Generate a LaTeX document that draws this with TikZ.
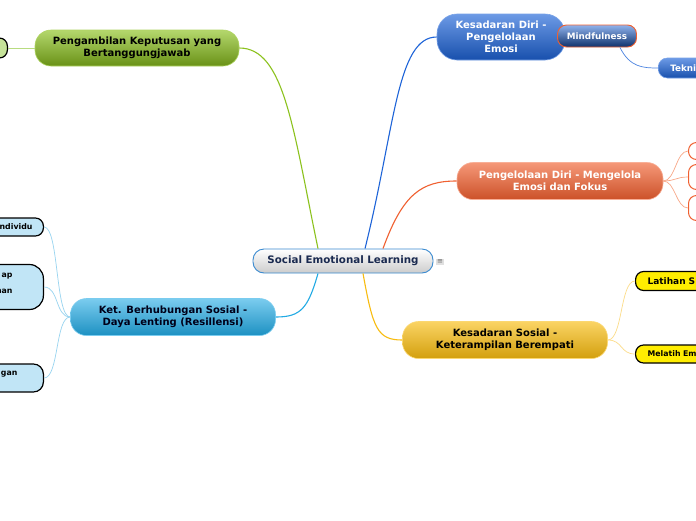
\documentclass[tikz,border=0pt]{standalone}
\usepackage{fontspec}
\setmainfont{DejaVu Sans}
\usepackage{xcolor}
\usepackage{tikz}
\usetikzlibrary{arrows}

\definecolor{sellink}{HTML}{3A8AD0}
\definecolor{selnavy}{HTML}{1A2A50}
\definecolor{grn}{HTML}{8CC21E}
\definecolor{grnlight}{HTML}{B8DC80}
\definecolor{blu}{HTML}{1E64D8}
\definecolor{org}{HTML}{F06030}
\definecolor{orglight}{HTML}{F8A888}
\definecolor{cya}{HTML}{22AAE4}
\definecolor{cyalight}{HTML}{98D4F0}
\definecolor{yel}{HTML}{F8BC10}
\definecolor{yellight}{HTML}{FCDC88}

\tikzstyle{central} = [rectangle, rounded corners=11pt,
minimum width=180pt,
minimum height=24pt,
top color=white, bottom color=black!20,
draw=sellink, line width=0.9pt,
text=selnavy,
font=\fontsize{10.3}{12}\selectfont\bfseries]
\tikzstyle{branch} = [rectangle, rounded corners=16pt,
minimum height=36pt,
align=center,
inner sep=2pt,
draw=white, line width=0.6pt,
font=\fontsize{10}{11.8}\selectfont\bfseries]
\tikzstyle{leaf} = [rectangle, rounded corners=8pt,
draw=black, line width=1.2pt,
inner sep=0pt,
font=\fontsize{7.8}{10}\selectfont\bfseries]
\tikzstyle{link} = [line width=1.1pt]
\tikzstyle{sublink} = [line width=0.7pt]

\begin{document}
\begin{tikzpicture}[x=1pt, y=-1pt]

\path [use as bounding box, fill=white] (0,0) rectangle (696,520);
\clip (0,0) rectangle (696,520);

% main topic in the middle
\node (sel) [central] at (343,261) {Social Emotional Learning};
\node (notes) [fill=black!12, inner sep=1pt, text=black!60, font=\fontsize{7}{7}\selectfont] at (440,262) {≡};

% the five branches
\node (decide) [branch, minimum width=204pt, top color=grn!65!white, bottom color=grn!75!black, draw=grn!70!white] at (137,48) {Pengambilan Keputusan yang\\Bertanggungjawab};
\node (aware) [branch, minimum width=128pt, minimum height=46pt, rounded corners=20pt, top color=blu!65!white, bottom color=blu!80!black, draw=blu!60!white, text=white] at (501,37) {Kesadaran Diri -\\Pengelolaan\\Emosi};
\node (manage) [branch, minimum width=206pt, minimum height=37pt, top color=org!65!white, bottom color=org!85!black, draw=org!50!white, text=white] at (560,181) {Pengelolaan Diri - Mengelola\\Emosi dan Fokus};
\node (social) [branch, minimum width=205pt, minimum height=37pt, top color=cya!60!white, bottom color=cya!85!black, draw=cya!60!white, text=black!90!blue] at (173,317) {Ket. Berhubungan Sosial -\\Daya Lenting (Resillensi)};
\node (empathy) [branch, minimum width=205pt, minimum height=37pt, top color=yel!65!white, bottom color=yel!85!black, draw=yel!60!white] at (505,340) {Kesadaran Sosial -\\Keterampilan Berempati};

% sub topics (partly outside the page)
\node (mindful) [leaf, rounded corners=9pt, minimum width=79pt, minimum height=22pt, top color=blu!50!white, bottom color=blu!50!black, draw=org, line width=0.9pt, text=white, font=\fontsize{8.8}{10}\selectfont\bfseries] at (597,36) {Mindfulness};
\node (teknik) [leaf, anchor=west, rounded corners=9pt, minimum height=20pt, text width=76pt, align=left, inner xsep=12pt, top color=blu!65!white, bottom color=blu!80!black, draw=blu!60!white, line width=0.6pt, text=white, font=\fontsize{8.8}{10}\selectfont\bfseries] at (658,68) {Tekni};

\node (sub1) [leaf, anchor=west, minimum width=40pt, minimum height=17pt, fill=white, draw=org, line width=1pt] at (688,151) {};
\node (sub2) [leaf, anchor=west, minimum width=40pt, minimum height=25pt, fill=white, draw=org, line width=1pt] at (688,177) {};
\node (sub3) [leaf, anchor=west, minimum width=40pt, minimum height=25pt, fill=white, draw=org, line width=1pt] at (688,208) {};

\node (latihan) [leaf, anchor=west, minimum height=19pt, text width=80pt, align=left, inner xsep=12pt, fill=yellow!95!orange, font=\fontsize{9}{10}\selectfont\bfseries] at (635,281) {Latihan S};
\node (melatih) [leaf, anchor=west, minimum height=18pt, text width=80pt, align=left, inner xsep=12pt, fill=yellow!95!orange] at (635,354) {Melatih Em};

\node (decide1) [leaf, anchor=east, minimum width=40pt, minimum height=20pt, fill=grnlight!80!white] at (8,48) {};

\node (bond1) [leaf, anchor=east, minimum height=18pt, text width=60pt, align=right, inner xsep=11pt, fill=cyalight!60!white] at (44,227) {ndividu};
\node (bond2) [leaf, anchor=east, rounded corners=14pt, minimum height=45pt, text width=60pt, align=right, inner xsep=31pt, fill=cyalight!60!white] at (44,287) {ap\hspace{4pt}\\[6pt]han\\[-2pt]\mbox{}};
\node (bond3) [leaf, anchor=east, rounded corners=10pt, minimum height=28pt, text width=60pt, align=right, inner xsep=26pt, fill=cyalight!60!white] at (44,378) {gan\\\mbox{}};

% links from the middle
\draw [link, grn] ([xshift=-25pt]sel.north) .. controls +(-25,-120) and +(45,0) .. (decide.east);
\draw [link, blu] ([xshift=22pt]sel.north) .. controls +(30,-120) and +(-40,0) .. (aware.west);
\draw [link, org] ([xshift=40pt]sel.north) .. controls +(20,-55) and +(-35,0) .. (manage.west);
\draw [link, cya] ([xshift=-25pt]sel.south) .. controls +(-10,35) and +(25,0) .. (social.east);
\draw [link, yel] ([xshift=20pt]sel.south) .. controls +(10,55) and +(-25,0) .. (empathy.west);

% links to the sub topics
\draw [sublink, blu!80!white] ([xshift=-17pt]mindful.south east) .. controls +(10,20) and +(-15,0) .. (teknik.west);
\foreach \n in {sub1,sub2,sub3}
  \draw [sublink, orglight] (manage.east) .. controls +(12,0) and +(-12,0) .. (\n.west);
\foreach \n in {latihan,melatih}
  \draw [sublink, yellight] (empathy.east) .. controls +(15,0) and +(-15,0) .. (\n.west);
\foreach \n in {bond1,bond2,bond3}
  \draw [sublink, cyalight] (social.west) .. controls +(-15,0) and +(15,0) .. (\n.east);
\draw [sublink, grnlight] (decide.west) -- (decide1.east);

\end{tikzpicture}
\end{document}
